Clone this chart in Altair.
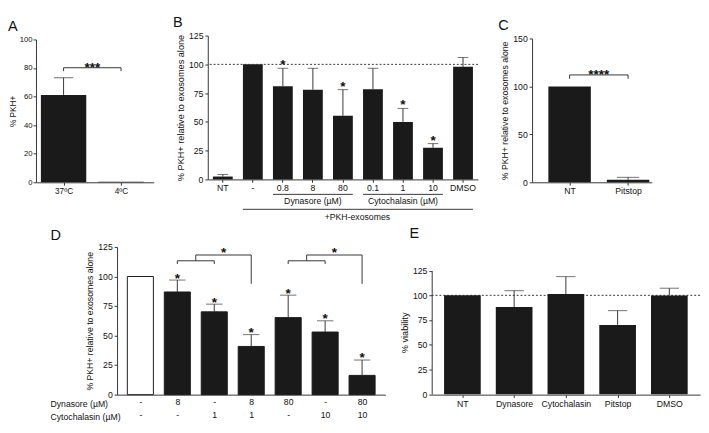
import altair as alt
import pandas as pd

FONT = "Liberation Sans"
INK = "#1a1a1a"
AXC = "#333333"
TXT = "#111111"

# ---------------- Panel A ----------------
a_pos = [1, 2]
a_names = ["37ºC", "4ºC"]
a_mean = [61.2, 0.4]
a_err_pos = [1]
a_err_hi = [73.2]
a_star_pos = [1.5]
a_star_y = [85.5]
a_star_txt = ["***"]
a_seg_x = [1, 1, 2]
a_seg_x2 = [2, 1, 2]
a_seg_y = [80.2, 80.2, 80.2]
a_seg_y2 = [80.2, 77.8, 77.8]

# ---------------- Panel B ----------------
b_cats = ["NT", "-", "0.8", "8", "80", "0.1", "1", "10", "DMSO"]
b_mean = [2.5, 100, 81.0, 78.0, 55.4, 78.4, 50.0, 27.6, 97.9]
b_err_cats = ["NT", "0.8", "8", "80", "0.1", "1", "10", "DMSO"]
b_err_hi = [4.3, 96.6, 96.6, 78.0, 96.6, 61.7, 31.1, 106.0]
b_star_cats = ["0.8", "80", "1", "10"]
b_star_y = [106, 87, 71, 40]
b_grp_start = ["0.8", "0.1", "-"]
b_grp_end = ["80", "10", "DMSO"]
b_grp_y = [-13.0, -13.0, -26.0]
b_lab_cat = ["8", "1"]
b_lab_txt = ["Dynasore (µM)", "Cytochalasin (µM)"]
b_lab_y = [-18.5, -18.5]
b_all_cat = ["80"]
b_all_txt = ["+PKH-exosomes"]
b_all_y = [-33.0]
b_ref = [100]

# ---------------- Panel C ----------------
c_pos = [1, 2]
c_names = ["NT", "Pitstop"]
c_mean = [100, 2.6]
c_err_pos = [2]
c_err_hi = [5.2]
c_star_pos = [1.5]
c_star_y = [119.5]
c_star_txt = ["****"]
c_seg_x = [1, 1, 2]
c_seg_x2 = [2, 1, 2]
c_seg_y = [112, 112, 112]
c_seg_y2 = [112, 108, 108]

# ---------------- Panel D ----------------
d_pos = [1, 2, 3, 4, 5, 6, 7]
d_dyn = ["-", "8", "-", "8", "80", "-", "80"]
d_cyt = ["-", "-", "1", "1", "-", "10", "10"]
d_mean = [100, 86.9, 70.1, 40.8, 65.2, 53.0, 16.3]
d_err_pos = [2, 3, 4, 5, 6, 7]
d_err_hi = [97.0, 76.6, 50.8, 84.2, 62.5, 29.3]
d_star_pos = [2, 3, 4, 5, 6, 7, 3.25, 6.25]
d_star_y = [104.6, 84.2, 59.0, 91.8, 70.6, 37.5, 126.4, 126.4]
d_seg_x = [2, 2, 3, 2.5, 2.5, 4, 5, 5, 6, 5.5, 5.5, 7]
d_seg_x2 = [3, 2, 3, 2.5, 4, 4, 6, 5, 6, 5.5, 7, 7]
d_seg_y = [113.3, 113.3, 113.3, 113.3, 118.2, 118.2, 113.3, 113.3, 113.3, 113.3, 118.2, 118.2]
d_seg_y2 = [113.3, 110.6, 110.6, 118.2, 118.2, 93.8, 113.3, 110.6, 110.6, 118.2, 118.2, 93.8]
d_row_titles = ["Dynasore (µM)", "Cytochalasin (µM)"]

# ---------------- Panel E ----------------
e_pos = [1, 2, 3, 4, 5]
e_names = ["NT", "Dynasore", "Cytochalasin", "Pitstop", "DMSO"]
e_mean = [100, 88.1, 101.4, 70.1, 99.8]
e_err_pos = [2, 3, 4, 5]
e_err_hi = [104.7, 118.9, 84.5, 107.2]
e_ref = [100]


def lookup_expr(names):
    return "[''," + ",".join("'" + n + "'" for n in names) + "][datum.value]"


def letter_title(txt, offset, dx):
    return alt.TitleParams(txt, offset=offset, dx=dx, frame="group", anchor="start")


def qpanel(pos, mean, err_pos, err_hi, xdom, xexpr, ydom, yrange, yvals, ytitle,
           barsize, capsize, width, height, title, yaxis_kw=None,
           xaxis_kw=None, star=None, seg=None, extra=None, fills=None, pre=None):
    yaxis_kw = yaxis_kw or {}
    xaxis_kw = xaxis_kw or {}
    xsc = alt.Scale(domain=xdom, nice=False, zero=False)
    xax = alt.Axis(values=pos, labelExpr=xexpr, title=None, labelAngle=0, **xaxis_kw)
    ysc = alt.Scale(domain=ydom, range=yrange, nice=False, zero=True)
    yax = alt.Axis(values=yvals, title=ytitle, **yaxis_kw)

    def X(f):
        return alt.X(f"{f}:Q", scale=xsc, axis=xax)

    def Y(f):
        return alt.Y(f"{f}:Q", scale=ysc, axis=yax)

    mean_of = dict(zip(pos, mean))
    bdf = pd.DataFrame({"x": pos, "y": mean})
    layers = []
    if pre:
        for mk, df in pre:
            layers.append(alt.Chart(df).mark_rule(**mk).encode(y=Y("y")))
    if fills is not None:
        bdf["ctrl"] = fills
        bars = alt.Chart(bdf).mark_bar(size=barsize, orient="vertical", stroke=INK, strokeWidth=1).encode(
            x=X("x"), y=Y("y"),
            fill=alt.condition("datum.ctrl", alt.value("white"), alt.value(INK)),
        )
    else:
        bars = alt.Chart(bdf).mark_bar(size=barsize, orient="vertical", color=INK).encode(
            x=X("x"), y=Y("y"))
    edf = pd.DataFrame({"x": err_pos, "lo": [mean_of[p] for p in err_pos], "hi": err_hi})
    err = alt.Chart(edf).mark_rule(color=AXC, strokeWidth=1).encode(
        x=X("x"), y=Y("lo"), y2="hi:Q")
    cap = alt.Chart(edf).mark_tick(color=AXC, size=capsize, thickness=1, orient="horizontal").encode(
        x=X("x"), y=Y("hi"))
    layers += [bars, err, cap]
    if seg is not None:
        sdf = pd.DataFrame({"x": seg[0], "x2": seg[1], "y": seg[2], "y2": seg[3]})
        layers.append(alt.Chart(sdf).mark_rule(color=AXC, strokeWidth=1).encode(
            x=X("x"), x2="x2:Q", y=Y("y"), y2="y2:Q"))
    if star is not None:
        tdf = pd.DataFrame({"x": star[0], "y": star[1], "t": star[2]})
        layers.append(alt.Chart(tdf).mark_text(font=FONT, fontSize=14, fontWeight="bold", dy=8,
                                               color=TXT).encode(
            x=X("x"), y=Y("y"), text="t:N"))
    if extra:
        layers.extend(extra)
    return alt.layer(*layers).properties(width=width, height=height, title=title)


TH = 152   # top-row panel height
DH = 153   # bottom-row panel height

# ---- A ----
A = qpanel(a_pos, a_mean, a_err_pos, a_err_hi, [0.604, 2.485], lookup_expr(a_names),
           [0, 100], [TH, 4], [0, 20, 40, 60, 80, 100], "% PKH+", 47, 20, 122, TH,
           letter_title("A", 2, -29),
           yaxis_kw=dict(labelFontSize=8, titleFontSize=8.5, tickSize=3, labelPadding=1, titlePadding=2),
           xaxis_kw=dict(labelFontSize=8.5),
           star=(a_star_pos, a_star_y, a_star_txt),
           seg=(a_seg_x, a_seg_x2, a_seg_y, a_seg_y2))

# ---- B ----
BH = TH - 3
bscale = alt.Scale(domain=b_cats, paddingInner=0.34, paddingOuter=0.17)
baxis = alt.Axis(title=None, labelAngle=0, tickSize=3)
byscale = alt.Scale(domain=[0, 125], range=[BH, 0], nice=False, zero=True)
byaxis = alt.Axis(values=[0, 25, 50, 75, 100, 125], title="% PKH+ relative to exosomes alone")


def BX(f, **kw):
    return alt.X(f"{f}:N", scale=bscale, sort=b_cats, axis=baxis, **kw)


def BY(f):
    return alt.Y(f"{f}:Q", scale=byscale, axis=byaxis)


b_bars = alt.Chart(pd.DataFrame({"cat": b_cats, "y": b_mean})).mark_bar(color=INK).encode(
    x=BX("cat"), y=BY("y"))
b_ref_rule = alt.Chart(pd.DataFrame({"y": b_ref})).mark_rule(
    color=AXC, strokeDash=[2, 2], strokeWidth=1).encode(y=BY("y"))
b_mean_of = dict(zip(b_cats, b_mean))
b_edf = pd.DataFrame({"cat": b_err_cats, "lo": [b_mean_of[c] for c in b_err_cats], "hi": b_err_hi})
b_err = alt.Chart(b_edf).mark_rule(color=AXC).encode(x=BX("cat"), y=BY("lo"), y2="hi:Q")
b_cap = alt.Chart(b_edf).mark_tick(color=AXC, size=11, thickness=1, orient="horizontal").encode(
    x=BX("cat"), y=BY("hi"))
b_star = alt.Chart(pd.DataFrame({"cat": b_star_cats, "y": b_star_y})).mark_text(
    text="*", font=FONT, fontSize=14, fontWeight="bold", dy=8, color=TXT).encode(
    x=BX("cat"), y=BY("y"))
b_grp = alt.Chart(pd.DataFrame({"s": b_grp_start, "e": b_grp_end, "y": b_grp_y})).mark_rule(
    color=AXC, strokeWidth=1).encode(
    x=BX("s", bandPosition=0), x2=alt.X2("e", bandPosition=1), y=BY("y"))
b_lab = alt.Chart(pd.DataFrame({"cat": b_lab_cat, "y": b_lab_y, "t": b_lab_txt})).mark_text(
    font=FONT, fontSize=9, baseline="middle", color=TXT).encode(
    x=BX("cat"), y=BY("y"), text="t:N")
b_all = alt.Chart(pd.DataFrame({"cat": b_all_cat, "y": b_all_y, "t": b_all_txt})).mark_text(
    font=FONT, fontSize=9, baseline="middle", color=TXT, dx=15).encode(
    x=BX("cat"), y=BY("y"), text="t:N")
B = alt.layer(b_bars, b_ref_rule, b_err, b_cap, b_star, b_grp, b_lab, b_all).properties(
    width=280, height=BH, title=letter_title("B", 2, -36))

# ---- C ----
C = qpanel(c_pos, c_mean, c_err_pos, c_err_hi, [0.441, 2.323], lookup_expr(c_names),
           [0, 150], [TH, 3], [0, 50, 100, 150], "% PKH+ relative to exosomes alone", 44, 23, 124, TH,
           letter_title("C", 2, -35),
           yaxis_kw=dict(titleFontSize=9),
           star=(c_star_pos, c_star_y, c_star_txt),
           seg=(c_seg_x, c_seg_x2, c_seg_y, c_seg_y2))

# ---- D ----
d_expr = "[[]," + ",".join(f"['{a}','{b}']" for a, b in zip(d_dyn, d_cyt)) + "][datum.value]"
d_rows = [
    alt.Chart(pd.DataFrame({"t": [d_row_titles[0]]})).mark_text(
        font=FONT, fontSize=9, align="left", baseline="middle", color=TXT).encode(
        text="t:N", x=alt.value(-69), y=alt.value(DH + 9.5)),
    alt.Chart(pd.DataFrame({"t": [d_row_titles[1]]})).mark_text(
        font=FONT, fontSize=9, align="left", baseline="middle", color=TXT).encode(
        text="t:N", x=alt.value(-69), y=alt.value(DH + 23)),
]
d_ctrl = [(a == "-" and b == "-") for a, b in zip(d_dyn, d_cyt)]
D = qpanel(d_pos, d_mean, d_err_pos, d_err_hi, [0.5, 7.5], d_expr,
           [0, 125], [DH, 0], [0, 25, 50, 75, 100, 125], "% PKH+ relative to exosomes alone",
           27, 17, 278, DH, letter_title("D", 0, -69),
           yaxis_kw=dict(titleFontSize=9),
           xaxis_kw=dict(ticks=False, labelPadding=3, labelLineHeight=13.3, labelBaseline="top"),
           star=(d_star_pos, d_star_y, ["*"] * len(d_star_pos)),
           seg=(d_seg_x, d_seg_x2, d_seg_y, d_seg_y2),
           extra=d_rows, fills=d_ctrl)

# ---- E ----
E = qpanel(e_pos, e_mean, e_err_pos, e_err_hi, [0.5, 5.5], lookup_expr(e_names),
           [0, 125], [DH - 0.5, 24.5], [0, 25, 50, 75, 100, 125], "% viability", 38, 20, 278, DH,
           letter_title("E", 6, -23),
           pre=[(dict(color=AXC, strokeDash=[2, 2], strokeWidth=1), pd.DataFrame({"y": e_ref}))])

spacer = alt.Chart(pd.DataFrame({"v": [0]})).mark_point(size=0, opacity=0).encode(
    x=alt.value(0), y=alt.value(0)).properties(width=1, height=10)

top = alt.hconcat(A, B, C, spacing=20)
bottom = alt.hconcat(spacer, D, E, spacing=14)

chart = alt.vconcat(top, bottom, spacing=4).properties(padding=0).configure_view(
    stroke=None
).configure_axis(
    labelFont=FONT, titleFont=FONT, labelFontSize=9, titleFontSize=9.5,
    titleFontWeight="normal", labelColor=TXT, titleColor=TXT,
    domainColor=AXC, tickColor=AXC, grid=False, tickSize=3,
    labelPadding=2, titlePadding=3,
).configure_title(
    font=FONT, fontSize=15, fontWeight="normal", color=TXT
)

chart.save("out.html", embed_options={"renderer": "svg", "actions": False})
